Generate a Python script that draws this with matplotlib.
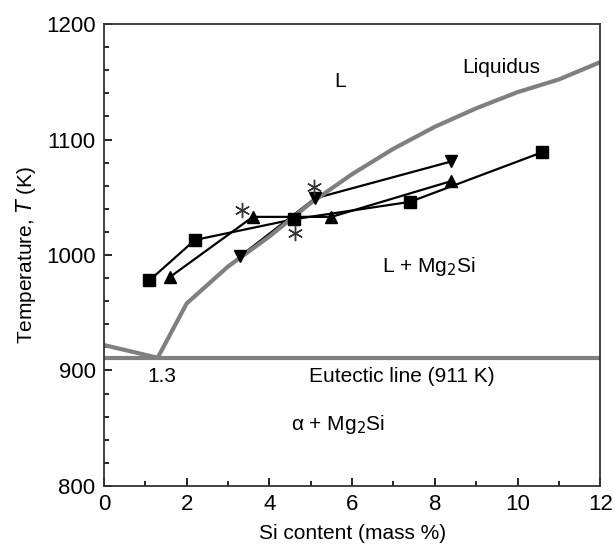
import matplotlib
matplotlib.use("Agg")
import matplotlib.pyplot as plt
from matplotlib.ticker import MultipleLocator

plt.rcParams['font.family'] = ['Liberation Sans', 'DejaVu Sans']

# Data
sq_x = [1.1, 2.2, 4.6, 7.4, 10.6]
sq_T = [978, 1013, 1031, 1046, 1089]
up_x = [1.6, 3.6, 5.5, 8.4]
up_T = [981, 1033, 1033, 1064]
dn_x = [3.3, 5.1, 8.4]
dn_T = [999, 1049, 1081]
star_x = [3.35, 5.07, 4.62]
star_T = [1039, 1059, 1019]
liq_x = [0.0, 1.3, 2.0, 3.0, 4.0, 5.0, 6.0, 7.0, 8.0, 9.0, 10.0, 11.0, 12.0]
liq_T = [922, 911, 958, 990, 1016, 1045, 1070, 1092, 1111, 1127, 1141, 1152, 1167]
eutectic_T = 911

fig = plt.figure(figsize=(6.15, 5.46), dpi=100)
ax = fig.add_axes([0.169, 0.110, 0.807, 0.846])

gray = '#7f7f7f'
ax.axhline(eutectic_T, color=gray, lw=3, zorder=2)
ax.plot(liq_x, liq_T, color=gray, lw=3, zorder=2.5, solid_capstyle='butt')

for xs, ts, m, ms in [(sq_x, sq_T, 's', 8), (up_x, up_T, '^', 9), (dn_x, dn_T, 'v', 9)]:
    ax.plot(xs, ts, color='black', lw=1.6, zorder=2)
    ax.plot(xs, ts, ls='none', marker=m, ms=ms, color='black', zorder=3)

ax.plot(star_x, star_T, ls='none', marker=(6, 2, 0), ms=11, mew=1.0,
        color='#333333', zorder=4)

ax.set_xlim(0, 12)
ax.set_ylim(800, 1200)
ax.xaxis.set_major_locator(MultipleLocator(2))
ax.xaxis.set_minor_locator(MultipleLocator(1))
ax.yaxis.set_major_locator(MultipleLocator(100))
ax.yaxis.set_minor_locator(MultipleLocator(20))
ax.tick_params(which='both', direction='in', top=False, right=False, labelsize=16, width=1.2)
ax.tick_params(which='major', length=6, pad=6)
ax.tick_params(which='minor', length=3.5)
for s in ax.spines.values():
    s.set_linewidth(1.3)
    s.set_color('#333333')

ax.set_xlabel('Si content (mass %)', fontsize=15, labelpad=6)
ax.set_ylabel('Temperature, $\\mathit{T}$ (K)', fontsize=15, labelpad=6)

fs = 15
ax.text(5.7, 1150, 'L', fontsize=fs, ha='center', va='center')
ax.text(9.6, 1162, 'Liquidus', fontsize=fs, ha='center', va='center')
ax.text(7.85, 990, 'L + Mg$_2$Si', fontsize=fs, ha='center', va='center')
ax.text(1.4, 895, '1.3', fontsize=fs, ha='center', va='center')
ax.text(7.2, 895, 'Eutectic line (911 K)', fontsize=fs, ha='center', va='center')
ax.text(5.65, 853, '\u03b1 + Mg$_2$Si', fontsize=fs, ha='center', va='center')

fig.savefig('out.png', dpi=100)
